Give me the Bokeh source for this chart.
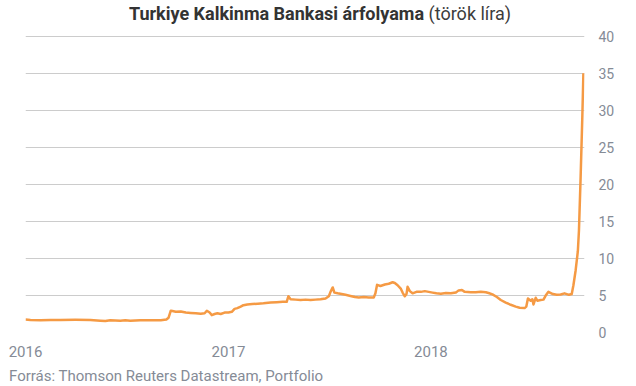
import pandas as pd
from bokeh.plotting import figure
from bokeh.layouts import column
from bokeh.models import Range1d, FixedTicker, DatetimeTickFormatter, ColumnDataSource, Div
from bokeh.embed import file_html
from bokeh.resources import INLINE

# ---- data ----
dates = [
    "2016-01-01", "2016-01-10", "2016-01-28", "2016-02-15", "2016-03-04", "2016-03-31",
    "2016-04-27", "2016-05-15", "2016-05-24", "2016-06-02", "2016-06-20", "2016-06-29",
    "2016-07-08", "2016-07-26", "2016-08-13", "2016-09-01", "2016-09-11", "2016-09-15",
    "2016-09-19", "2016-09-22", "2016-09-28", "2016-10-07", "2016-10-16", "2016-10-25",
    "2016-11-03", "2016-11-12", "2016-11-19", "2016-11-23", "2016-11-28", "2016-12-02",
    "2016-12-07", "2016-12-12", "2016-12-18", "2016-12-25", "2017-01-01", "2017-01-07",
    "2017-01-12", "2017-01-17", "2017-01-23", "2017-01-28", "2017-02-04", "2017-02-13",
    "2017-02-23", "2017-03-05", "2017-03-18", "2017-03-29", "2017-04-09", "2017-04-16",
    "2017-04-19", "2017-04-23", "2017-05-02", "2017-05-11", "2017-05-20", "2017-05-29",
    "2017-06-07", "2017-06-16", "2017-06-25", "2017-07-01", "2017-07-04", "2017-07-08",
    "2017-07-11", "2017-07-17", "2017-07-24", "2017-07-31", "2017-08-09", "2017-08-17",
    "2017-08-24", "2017-09-02", "2017-09-11", "2017-09-20", "2017-09-23", "2017-09-26",
    "2017-10-02", "2017-10-10", "2017-10-17", "2017-10-24", "2017-10-28", "2017-11-02",
    "2017-11-08", "2017-11-11", "2017-11-15", "2017-11-18", "2017-11-20", "2017-11-24",
    "2017-11-29", "2017-12-06", "2017-12-14", "2017-12-21", "2017-12-28", "2018-01-04",
    "2018-01-11", "2018-01-19", "2018-01-28", "2018-02-06", "2018-02-15", "2018-02-20",
    "2018-02-26", "2018-03-03", "2018-03-14", "2018-03-23", "2018-04-01", "2018-04-10",
    "2018-04-15", "2018-04-22", "2018-04-30", "2018-05-07", "2018-05-16", "2018-05-25",
    "2018-06-03", "2018-06-10", "2018-06-19", "2018-06-22", "2018-06-25", "2018-06-30",
    "2018-07-03", "2018-07-05", "2018-07-09", "2018-07-12", "2018-07-18", "2018-07-23",
    "2018-07-27", "2018-08-01", "2018-08-09", "2018-08-16", "2018-08-23", "2018-08-30",
    "2018-09-07", "2018-09-12", "2018-09-15", "2018-09-19", "2018-09-23", "2018-09-25",
    "2018-09-28", "2018-10-01", "2018-10-03",
]
prices = [
    1.75, 1.70, 1.65, 1.70, 1.70, 1.72,
    1.70, 1.60, 1.55, 1.65, 1.60, 1.65,
    1.60, 1.65, 1.65, 1.65, 1.75, 2.00,
    2.95, 2.90, 2.80, 2.85, 2.70, 2.65,
    2.60, 2.55, 2.60, 2.95, 2.70, 2.35,
    2.50, 2.60, 2.50, 2.70, 2.70, 2.80,
    3.20, 3.30, 3.50, 3.70, 3.80, 3.85,
    3.90, 3.95, 4.05, 4.10, 4.15, 4.15,
    4.90, 4.50, 4.45, 4.40, 4.45, 4.40,
    4.45, 4.50, 4.60, 4.90, 5.50, 6.10,
    5.40, 5.30, 5.20, 5.10, 4.95, 4.80,
    4.75, 4.80, 4.75, 4.75, 5.30, 6.45,
    6.30, 6.50, 6.60, 6.80, 6.70, 6.40,
    5.90, 5.40, 4.90, 5.20, 6.20, 5.60,
    5.30, 5.50, 5.50, 5.60, 5.50, 5.40,
    5.30, 5.25, 5.35, 5.30, 5.40, 5.70,
    5.75, 5.50, 5.45, 5.45, 5.50, 5.45,
    5.35, 5.15, 4.80, 4.40, 4.05, 3.75,
    3.50, 3.35, 3.30, 3.50, 4.60, 4.30,
    4.50, 3.80, 4.70, 4.30, 4.40, 4.45,
    5.00, 5.50, 5.20, 5.10, 5.15, 5.30,
    5.10, 5.20, 6.40, 8.40, 11.00, 13.80,
    21.00, 29.00, 35.10,
]
year_ticks = ["2016-01-01", "2017-01-01", "2018-01-01"]
y_ticks = [0, 5, 10, 15, 20, 25, 30, 35, 40]
title_bold = "Turkiye Kalkinma Bankasi árfolyama"
title_unit = "(török líra)"
source_note = "Forrás: Thomson Reuters Datastream, Portfolio"

tick_color = "#858b96"

# ---- title ----
title_div = Div(
    text=f'<span style="font-weight:bold;color:#333333">{title_bold}</span>'
         f' <span style="color:#3c3c3c">{title_unit}</span>',
    width=636, height=26,
    styles={"font-family": "Roboto", "font-size": "18px", "line-height": "28px",
            "text-align": "center", "padding-left": "4px", "white-space": "nowrap",
            "margin": "0", "overflow": "visible"},
)

# ---- figure ----
src = ColumnDataSource(data=dict(date=pd.to_datetime(dates), price=prices))

p = figure(
    width=636, height=340,
    x_axis_type="datetime", y_axis_location="right",
    x_range=Range1d(pd.Timestamp("2016-01-01"), pd.Timestamp("2018-10-05")),
    y_range=Range1d(0, 40.2),
    output_backend="svg", toolbar_location=None,
    min_border_left=25, min_border_right=52, min_border_top=9, min_border_bottom=34,
)
p.outline_line_color = None
p.background_fill_color = "white"
p.border_fill_color = "white"

p.line("date", "price", source=src, line_color="#F59A44", line_width=2.5,
       line_join="round")

p.xaxis.ticker = FixedTicker(ticks=[pd.Timestamp(t).value / 1e6 for t in year_ticks])
p.xaxis.formatter = DatetimeTickFormatter(years="%Y", months="%Y", days="%Y",
                                          hours="%Y", minutes="%Y", seconds="%Y")
p.yaxis.ticker = FixedTicker(ticks=y_ticks)
for ax in (p.xaxis, p.yaxis):
    ax.axis_line_color = None
    ax.major_tick_line_color = None
    ax.minor_tick_line_color = None
    ax.major_tick_out = 0
    ax.major_tick_in = 0
    ax.major_label_text_color = tick_color
    ax.major_label_text_font = "Roboto"
p.xaxis.major_label_text_font_size = "15px"
p.xaxis.major_label_standoff = 13
p.yaxis.major_label_text_font_size = "14px"
p.yaxis.major_label_standoff = 14

p.xgrid.visible = False
p.ygrid.grid_line_color = "#cccccc"
p.ygrid.grid_line_width = 1

# ---- source note ----
note_div = Div(
    text=source_note, width=636, height=20,
    styles={"font-family": "Roboto", "font-size": "15px", "line-height": "20px",
            "color": tick_color, "padding-left": "9px", "white-space": "nowrap",
            "margin": "0"},
)

layout = column(title_div, p, note_div, spacing=0)
open("out.html", "w").write(file_html(layout, INLINE))
